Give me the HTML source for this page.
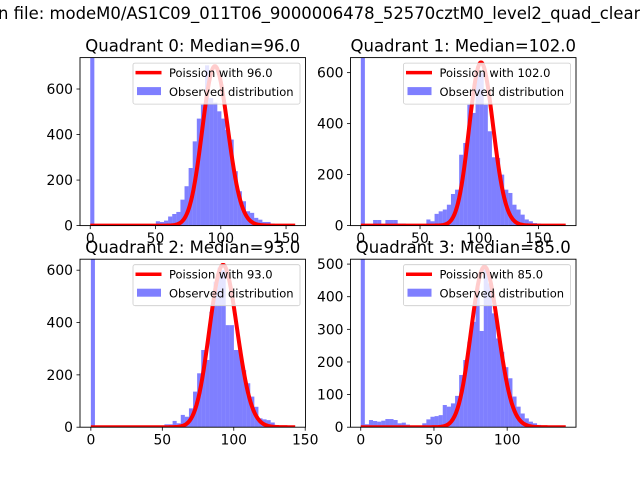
<!DOCTYPE html>
<html><head><meta charset="utf-8"><style>
html,body{margin:0;padding:0;background:#fff;}
svg{display:block;font-family:"DejaVu Sans","Liberation Sans",sans-serif;}
</style></head><body>
<svg id="fig" width="640" height="480" viewBox="0 0 640 480">
<rect width="640" height="480" fill="#fff"/>
<text x="-2" y="19" font-size="16.5" textLength="646" lengthAdjust="spacingAndGlyphs">n file: modeM0/AS1C09_011T06_9000006478_52570cztM0_level2_quad_clean</text>
</svg>
<script>
// ---- data ----
const quadTitles = ["Quadrant 0: Median=96.0","Quadrant 1: Median=102.0","Quadrant 2: Median=93.0","Quadrant 3: Median=85.0"];
const medians = [96, 102, 93, 85];
const binWidths = [3.14, 3.46, 2.86, 2.8];
const curvePeaks = [700, 640, 620, 492];
const curveMax = [157, 173, 143, 140];
const counts0 = [740,0,0,0,0,0,0,0,0,0,0,0,0,0,0,0,19,16,22,40,51,60,114,173,253,370,470,531,704,560,540,502,470,420,378,239,151,107,63,56,34,26,16,16,9,5,3,0,0,0];
const counts1 = [700,0,0,22,22,5,22,22,22,8,8,5,5,5,5,5,24,17,46,56,63,82,124,141,278,324,474,442,592,600,474,370,268,265,200,141,128,82,63,43,24,17,10,8,5,3,2,2,2,0];
const counts2 = [680,0,0,0,0,0,0,0,0,0,0,0,0,0,0,0,0,0,11,11,24,15,47,40,72,136,206,295,257,441,556,610,600,390,390,295,295,218,168,117,78,34,30,27,18,8,3,0,0,0];
const counts3 = [540,9,22,19,17,20,25,25,22,12,14,8,5,5,5,12,24,32,34,37,68,63,73,96,160,206,262,323,431,295,490,441,349,272,231,184,150,94,63,42,27,17,12,7,3,1,0,0,0,0];
const allCounts = [counts0, counts1, counts2, counts3];
const xLims = [[-7.85,164.9],[-8.7,181.7],[-7.6,150.2],[-7.0,147]];
const yMaxes = [738, 659, 642, 515];
const yTicks = [[0,200,400,600],[0,200,400,600],[0,200,400,600],[0,100,200,300,400,500]];
const xTicks = [[0,50,100,150],[0,50,100,150],[0,50,100,150],[0,50,100]];

const NS = "http://www.w3.org/2000/svg";
const svg = document.getElementById('fig');
const boxes = [[80,57.6,225.5,168],[350.5,57.6,225.5,168],[80,259.2,225.5,168],[350.5,259.2,225.5,168]];
function mk(tag, attrs, parent){const e=document.createElementNS(NS,tag);for(const k in attrs)e.setAttribute(k,attrs[k]);(parent||svg).appendChild(e);return e;}
function lgamma(n){
  if(n<2) return 0;
  return n*Math.log(n)-n+0.5*Math.log(2*Math.PI*n)+1/(12*n)-1/(360*n*n*n);
}
function logPmf(k,l){return k*Math.log(l)-l-lgamma(k);}

for(let q=0;q<4;q++){
  const [bx,by,bw,bh]=boxes[q];
  const [x0,x1]=xLims[q];
  const ymax=yMaxes[q];
  const X=v=>bx+(v-x0)/(x1-x0)*bw;
  const Y=v=>by+bh-v/ymax*bh;
  const g=mk('g',{});
  
  
  const cid='clip'+q;
  const cp=mk('clipPath',{id:cid},g);
  mk('rect',{x:bx,y:by,width:bw,height:bh},cp);
  const plot=mk('g',{'clip-path':'url(#'+cid+')'},g);
  // histogram
  const cs=allCounts[q];
  const w=binWidths[q];
  for(let i=0;i<cs.length;i++){
    if(cs[i]<=0) continue;
    const r=mk('rect',{x:X(i*w),y:Y(cs[i]),width:Math.max(0,X((i+1)*w)-X(i*w)),height:Y(0)-Y(cs[i]),fill:'#0000ff','fill-opacity':0.5},plot);
    
    
  }
  // poisson curve (on top)
  let d='';
  const lam=medians[q];
  const modeLog=logPmf(Math.floor(lam),lam);
  for(let k=0;k<=curveMax[q];k++){
    const v=curvePeaks[q]*Math.exp(logPmf(k,lam)-modeLog);
    d+=(k?'L':'M')+X(k).toFixed(2)+','+Y(v).toFixed(2);
  }
  const line=mk('path',{d:d,fill:'none',stroke:'#ff0000','stroke-width':4,'stroke-linejoin':'round'},plot);
  
  
  // frame
  mk('rect',{x:bx,y:by,width:bw,height:bh,fill:'none',stroke:'#000','stroke-width':0.9},g);
  // ticks
  for(const t of xTicks[q]){
    const x=X(t);
    mk('line',{x1:x,y1:by+bh,x2:x,y2:by+bh+3.5,stroke:'#000','stroke-width':0.8},g);
    const tx=mk('text',{x:x,y:by+bh+17.5,'font-size':13.9,'text-anchor':'middle'},g);
    tx.textContent=t;
    
    
  }
  for(const t of yTicks[q]){
    const y=Y(t);
    mk('line',{x1:bx,y1:y,x2:bx-3.5,y2:y,stroke:'#000','stroke-width':0.8},g);
    const ty=mk('text',{x:bx-7,y:y+5,'font-size':13.9,'text-anchor':'end'},g);
    ty.textContent=t;
    
    
  }
  // title
  const tt=mk('text',{x:bx+bw/2,y:by-6,'font-size':16.5,'text-anchor':'middle'},g);
  tt.textContent=quadTitles[q];
  
  
  // legend
  const lg=mk('g',{},g);
  
  
  const lx=bx+bw-172.5, ly=by+5.5;
  mk('rect',{x:lx,y:ly,width:167,height:41,rx:2,fill:'#fff','fill-opacity':0.8,stroke:'#ccc','stroke-width':0.8},lg);
  mk('line',{x1:lx+2.5,y1:ly+9.5,x2:lx+28.5,y2:ly+9.5,stroke:'#ff0000','stroke-width':3.5},lg);
  const l1=mk('text',{x:lx+36,y:ly+14,'font-size':11.5},lg);
  l1.textContent='Poission with '+medians[q].toFixed(1);
  
  
  mk('rect',{x:lx+4,y:ly+24,width:24,height:8,fill:'#0000ff','fill-opacity':0.5},lg);
  const l2=mk('text',{x:lx+36,y:ly+33,'font-size':11.5},lg);
  l2.textContent='Observed distribution';
  
  
}
</script>
</body></html>
